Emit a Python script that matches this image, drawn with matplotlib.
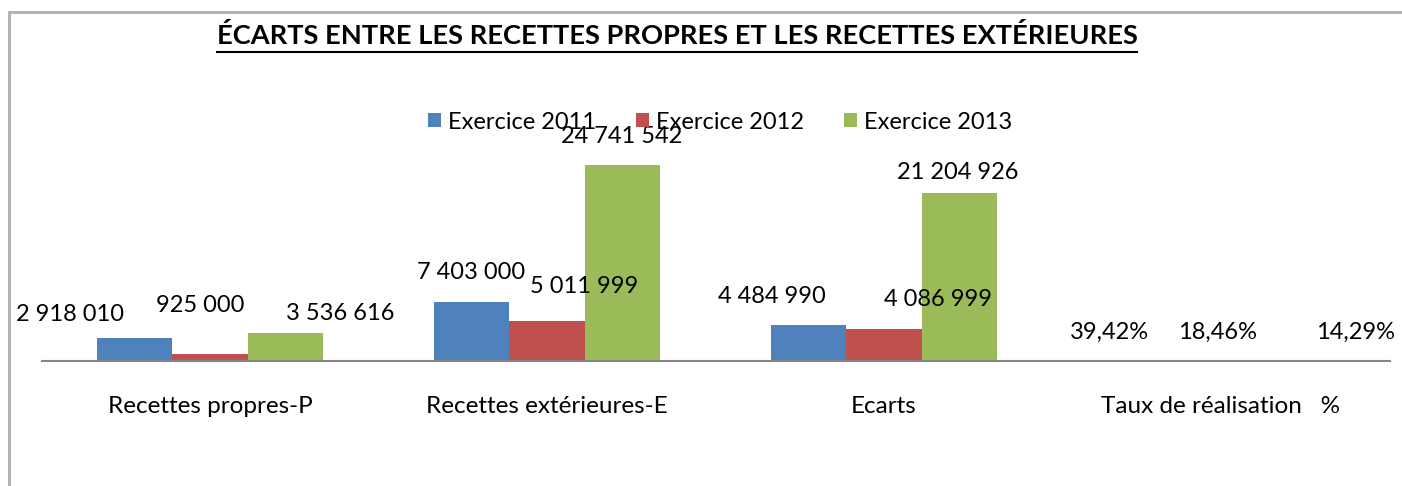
import matplotlib
matplotlib.use('Agg')
import matplotlib.pyplot as plt
from matplotlib.patches import Rectangle, Patch
from matplotlib.lines import Line2D
import numpy as np

# Data
categories = ['Recettes propres-P', 'Recettes extérieures-E', 'Ecarts', 'Taux de réalisation   %']
series_names = ['Exercice 2011', 'Exercice 2012', 'Exercice 2013']
ex_2011 = [2918010, 7403000, 4484990, 0.3942]
ex_2012 = [925000, 5011999, 4086999, 0.1846]
ex_2013 = [3536616, 24741542, 21204926, 0.1429]
title = 'ÉCARTS ENTRE LES RECETTES PROPRES ET LES RECETTES EXTÉRIEURES'

colors = ['#4F81BD', '#C0504D', '#9BBB59']

# label nudges in pixels (dx, dy) relative to top centre of each bar
nudges = [
    [(-65, 23), (-1, 30), (-37, 29), (-36, 29)],
    [(-10, 48), (37, 35), (54, 29), (-3, 29)],
    [(55, 19), (0, 29), (-1, 21), (59, 29)],
]

plt.rcParams['font.family'] = ['Lato', 'DejaVu Sans']

W, H = 1402, 486
fig = plt.figure(figsize=(W / 100, H / 100), dpi=100)
fig.patch.set_facecolor('white')

# outer chart frame (left and top visible)
fig.add_artist(Rectangle((9 / W, -0.05), 1.1, 1 - 12 / H + 0.05, transform=fig.transFigure,
                         fill=False, edgecolor='#b4b4b4', linewidth=2.2))

ax = fig.add_axes([41.5 / W, (H - 361) / H, 1348 / W, 237.6 / H])
ax.set_facecolor('none')

x = np.arange(len(categories))
width = 0.2226
all_series = [ex_2011, ex_2012, ex_2013]

for i, vals in enumerate(all_series):
    xs = x + (i - 1) * width
    ax.bar(xs, vals, width=width, color=colors[i], label=series_names[i], zorder=2)
    for j, v in enumerate(vals):
        if j == 3:
            txt = f'{v * 100:.2f}%'.replace('.', ',')
        else:
            txt = f'{v:,}'.replace(',', ' ')
        dx, dy = nudges[i][j]
        ax.annotate(txt, xy=(xs[j], v), xytext=(dx, dy), textcoords='offset pixels',
                    ha='center', va='center', fontsize=17, color='black', zorder=3,
                    annotation_clip=False)

ax.set_xlim(-0.5, 3.5)
ax.set_ylim(0, 30000000)
ax.set_yticks([])
ax.set_xticks(x)
ax.set_xticklabels(categories, fontsize=17.5)
ax.tick_params(axis='x', length=0, pad=25)
for s in ['top', 'right', 'left']:
    ax.spines[s].set_visible(False)
ax.spines['bottom'].set_color('#868686')
ax.spines['bottom'].set_linewidth(1.5)

# legend
handles = [Patch(facecolor=c, edgecolor='none') for c in colors]
fig.legend(handles, series_names, loc='center', bbox_to_anchor=(720 / W, 1 - 122 / H),
           ncol=3, frameon=False, fontsize=17, handlelength=0.55, handleheight=0.55,
           handletextpad=0.3, columnspacing=1.7)

# title with underline
t = fig.text(677 / W, 1 - 35 / H, title, ha='center', va='center',
             fontsize=19.6, fontweight='bold')
fig.canvas.draw()
bb = t.get_window_extent(fig.canvas.get_renderer())
fig.add_artist(Line2D([bb.x0 / W, bb.x1 / W], [1 - 52 / H, 1 - 52 / H],
                      transform=fig.transFigure, color='black', linewidth=1.5))

fig.savefig('out.png', dpi=100)
